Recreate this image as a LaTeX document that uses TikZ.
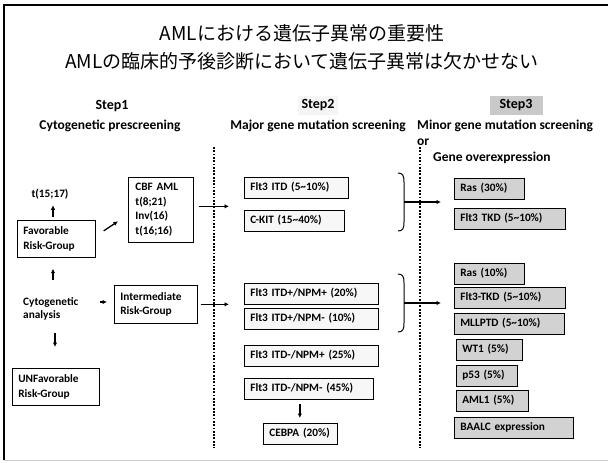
\documentclass[tikz,border=0pt]{standalone}
\usepackage{fontspec}
\setmainfont{Carlito}
\newfontfamily\jp{Noto Sans CJK JP}
\usetikzlibrary{arrows.meta,calc}
\begin{document}
\begin{tikzpicture}[x=1pt,y=-1pt,
  every node/.style={font=\bfseries\fontsize{11.3}{14.5}\selectfont},
  lbl/.style={inner sep=1pt},
  hdr/.style={inner sep=1pt, font=\bfseries\fontsize{14}{16}\selectfont},
  sub/.style={inner sep=1pt, font=\bfseries\fontsize{13.5}{15}\selectfont},
  b1/.style={draw, line width=0.7pt, align=left, inner xsep=6pt, inner ysep=2pt, anchor=north west},
  b2/.style={b1, fill=gray!6, minimum height=20.5pt},
  b3/.style={b1, fill=gray!35, minimum height=20.5pt},
  arr/.style={-{Latex[length=4.5pt,width=4.5pt]}, line width=1.3pt},
  dotl/.style={line width=2.4pt, dash pattern=on 1.8pt off 1.5pt},
  brace/.style={line width=1pt}
]
\useasboundingbox (0,0) rectangle (608,463);
% frame
\draw[line width=1.6pt] (608,5) -- (4,5) -- (4,460);
\draw[gray!40, line width=0.6pt] (4,460) -- (608,460);

% title
\node[font=\jp\fontsize{19}{24}\selectfont, inner sep=0pt] (t1) at (302,33) {AMLにおける遺伝子異常の重要性};
\node[font=\jp\fontsize{19}{24}\selectfont, inner sep=0pt] (t2) at (302,61) {AMLの臨床的予後診断において遺伝子異常は欠かせない};

% headers
\node[hdr] (s1) at (112,106) {Step1};
\node[hdr, fill=gray!8, minimum width=40pt, minimum height=19pt] (s2) at (318,105) {Step2};
\node[hdr, fill=gray!42, minimum width=53pt, minimum height=19pt] (s3) at (516,105) {Step3};
\node[sub] (h1) at (110,126) {Cytogenetic prescreening};
\node[sub] (h2) at (318,126) {Major gene mutation screening};
\node[sub, anchor=west] (h3) at (416,126) {Minor gene mutation screening};
\node[sub, anchor=west] (h3b) at (416,142) {or};
\node[sub, anchor=west] (h3c) at (432,158) {Gene overexpression};

% dotted separators
\draw[dotl] (214,147) -- (214,448);
\draw[dotl] (420,147) -- (420,448);

% step 1
\coordinate (cx) at (53,0);
\node[lbl] (t1517) at (50,194) {t(15;17)};
\node[b1, text width=66pt, minimum height=37pt] (fav) at (17,220) {Favorable\\Risk-Group};
\node[b1, inner xsep=7pt, text width=51pt, minimum height=65pt] (cbf) at (128,177) {CBF AML\\t(8;21)\\Inv(16)\\t(16;16)};
\node[lbl, align=left, anchor=west, font=\bfseries\fontsize{11.3}{13}\selectfont] (cyto) at (22,308.5) {Cytogenetic\\analysis};
\node[b1, text width=71pt, minimum height=38pt] (inter) at (114,285) {Intermediate\\Risk-Group};
\node[b1, text width=75pt, minimum height=37pt] (unfav) at (12,368) {UNFavorable\\Risk-Group};

\draw[arr, shorten <=3pt, shorten >=5pt] (cx |- fav.north) -- (cx |- t1517.south);
\draw[arr, shorten <=16pt, shorten >=11pt] (cx |- cyto.north) -- (cx |- fav.south);
\draw[arr, shorten <=12pt, shorten >=21pt] ([xshift=2pt]cx |- cyto.south) -- ([xshift=2pt]cx |- unfav.north);
\coordinate (ca) at ($(cyto.east)+(0,-6.5)$);
\draw[arr, shorten <=20pt, shorten >=7pt] (ca) -- (ca -| inter.west);
\draw[arr] ($(fav.east)+(8,-8)$) -- ($(cbf.west)+(-10,11.5)$);

% step 2
\node[b2, text width=92pt] (f1) at (244,177) {Flt3 ITD (5\textasciitilde10\%)};
\node[b2, text width=88pt] (f2) at (244,210) {C-KIT (15\textasciitilde40\%)};
\node[b2, text width=122pt] (f3) at (244,283) {Flt3 ITD+/NPM+ (20\%)};
\node[b2, text width=122pt] (f4) at (244,308) {Flt3 ITD+/NPM- (10\%)};
\node[b2, text width=122pt] (f5) at (244,345) {Flt3 ITD-/NPM+ (25\%)};
\node[b2, text width=117pt] (f6) at (244,378) {Flt3 ITD-/NPM- (45\%)};
\node[b2, text width=62pt] (cebpa) at (263,423) {CEBPA (20\%)};

\coordinate (a1) at ($(cbf.east)+(0,-3.5)$);
\draw[arr, shorten <=5pt, shorten >=15pt] (a1) -- (a1 -| f1.west);
\draw[arr, shorten <=3pt, shorten >=15pt] (inter.east) -- (inter.east -| f3.west);
\draw[arr, shorten <=5pt, shorten >=5pt] ([xshift=-9pt]f6.south) -- ([xshift=-9pt]f6.south |- cebpa.north);

% step 3
\node[b3, text width=58pt] (r1) at (454,178) {Ras (30\%)};
\node[b3, text width=99pt] (r2) at (454,208) {Flt3 TKD (5\textasciitilde10\%)};
\node[b3, text width=58pt] (r3) at (454,263) {Ras (10\%)};
\node[b3, text width=99pt] (r4) at (454,287) {Flt3-TKD (5\textasciitilde10\%)};
\node[b3, text width=98pt] (r5) at (454,313) {MLLPTD (5\textasciitilde10\%)};
\node[b3, text width=54pt] (r6) at (456,339) {WT1 (5\%)};
\node[b3, text width=49pt] (r7) at (456,365) {p53 (5\%)};
\node[b3, text width=60pt] (r8) at (456,390) {AML1 (5\%)};
\node[b3, text width=107pt] (r9) at (454,417) {BAALC expression};

% braces and arrows to step 3
\draw[brace] (398,173) .. controls (403,173) and (404,176) .. (404,182) -- (404,222) .. controls (404,228) and (403,231) .. (398,231);
\coordinate (bm1) at (404,202);
\draw[arr, shorten >=13pt] (bm1) -- (bm1 -| r1.west);
\draw[brace] (398,274) .. controls (403,274) and (404,277) .. (404,283) -- (404,323) .. controls (404,329) and (403,332) .. (398,332);
\coordinate (bm2) at (404,303);
\draw[arr, shorten >=13pt] (bm2) -- (bm2 -| r4.west);
\end{tikzpicture}
\end{document}
